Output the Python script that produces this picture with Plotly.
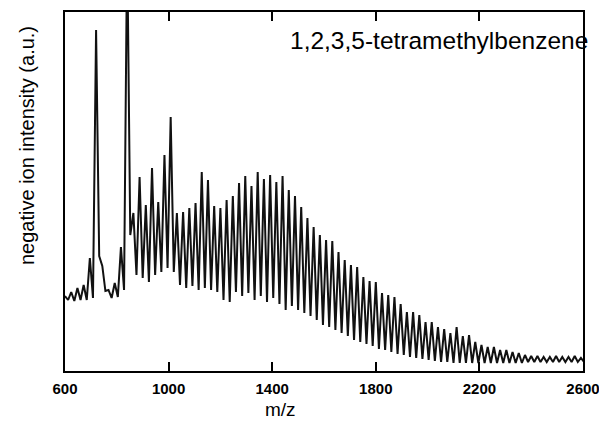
import plotly.graph_objects as go

# m/z of carbon-cluster anion peaks (C_n^-, even n, 24 u spacing)
peak_mz = [600, 624, 648, 672, 696, 720, 744, 768, 792, 816, 840, 864, 888, 912, 936, 960,
           984, 1008, 1032, 1056, 1080, 1104, 1128, 1152, 1176, 1200, 1224, 1248, 1272, 1296,
           1320, 1344, 1368, 1392, 1416, 1440, 1464, 1488, 1512, 1536, 1560, 1584, 1608, 1632,
           1656, 1680, 1704, 1728, 1752, 1776, 1800, 1824, 1848, 1872, 1896, 1920, 1944, 1968,
           1992, 2016, 2040, 2064, 2088, 2112, 2136, 2160, 2184, 2208, 2232, 2256, 2280, 2304,
           2328, 2352, 2376, 2400, 2424, 2448, 2472, 2496, 2520, 2544, 2568, 2592]

# peak top intensity (a.u.)
peak_int = [75, 79, 83, 86, 113, 341, 105, 81, 88, 124, 430, 158, 194, 166, 203, 169,
            216, 254, 158, 159, 163, 168, 199, 191, 165, 163, 171, 175, 188, 195,
            185, 199, 192, 196, 189, 195, 181, 175, 164, 153, 144, 136, 131, 130,
            119, 111, 106, 104, 94, 90, 89, 78, 76, 74, 67, 59, 59, 56,
            49, 49, 44, 42, 38, 44, 35, 36, 29, 26, 24, 24, 21, 21,
            19, 18, 16, 15, 15, 14, 14, 15, 14, 14, 15, 13]

# valley intensity following each peak (a.u.)
valley_int = [71, 70, 71, 71, 73, 115, 80, 73, 74, 81, 136, 96, 93, 89, 96, 99,
              103, 99, 86, 83, 85, 81, 83, 81, 79, 71, 69, 79, 75, 78,
              71, 75, 69, 73, 67, 61, 65, 61, 58, 55, 51, 46, 44, 41,
              38, 35, 31, 29, 27, 25, 22, 21, 19, 17, 16, 14, 13, 12,
              11, 10, 9, 9, 8, 8, 8, 8, 8, 8, 8, 8, 8, 8,
              8, 8, 9, 9, 9, 9, 9, 9, 9, 9, 9, 9]

x_ticks = [600, 1000, 1400, 1800, 2200, 2600]

xs, ys = [], []
for m, p, v in zip(peak_mz, peak_int, valley_int):
    xs += [m, m + 12]
    ys += [p, v]

SANS = "Liberation Sans, Arial, sans-serif"

fig = go.Figure()
fig.add_trace(go.Scatter(x=xs, y=ys, mode="lines",
                         line=dict(color="#111111", width=2), hoverinfo="skip"))

fig.update_layout(
    width=599, height=421,
    margin=dict(l=65, r=16, t=12, b=50, autoexpand=False),
    plot_bgcolor="white", paper_bgcolor="white",
    showlegend=False,
    xaxis=dict(range=[600, 2600], tickvals=x_ticks, ticktext=[str(t) for t in x_ticks],
               ticks="inside", ticklen=9, tickwidth=1.5, tickcolor="black",
               showline=True, linecolor="black", linewidth=2, mirror="ticks",
               showgrid=False, zeroline=False, automargin=False,
               tickfont=dict(family=SANS, size=15, color="black", weight="bold"),
               ticklabelstandoff=3, ticklabeloverflow="allow"),
    yaxis=dict(range=[0, 359], showticklabels=False, ticks="",
               showline=True, linecolor="black", linewidth=2, mirror=True,
               showgrid=False, zeroline=False, automargin=False),
    annotations=[
        dict(text="1,2,3,5-tetramethylbenzene", xref="paper", yref="paper",
             x=(288 - 65) / 518, y=(371 - 40) / 359, xanchor="left", yanchor="middle",
             showarrow=False, font=dict(family=SANS, size=24.5, color="black")),
        dict(text="m/z", xref="paper", yref="paper",
             x=(280 - 65) / 518, y=(371 - 410) / 359, xanchor="center", yanchor="middle",
             showarrow=False, font=dict(family=SANS, size=19, color="black")),
        dict(text="negative ion intensity (a.u.)", xref="paper", yref="paper",
             x=(27 - 65) / 518, y=(371 - 146) / 359, xanchor="center", yanchor="middle",
             textangle=-90, showarrow=False,
             font=dict(family=SANS, size=20, color="black")),
    ],
)

fig.write_html("out.html")
